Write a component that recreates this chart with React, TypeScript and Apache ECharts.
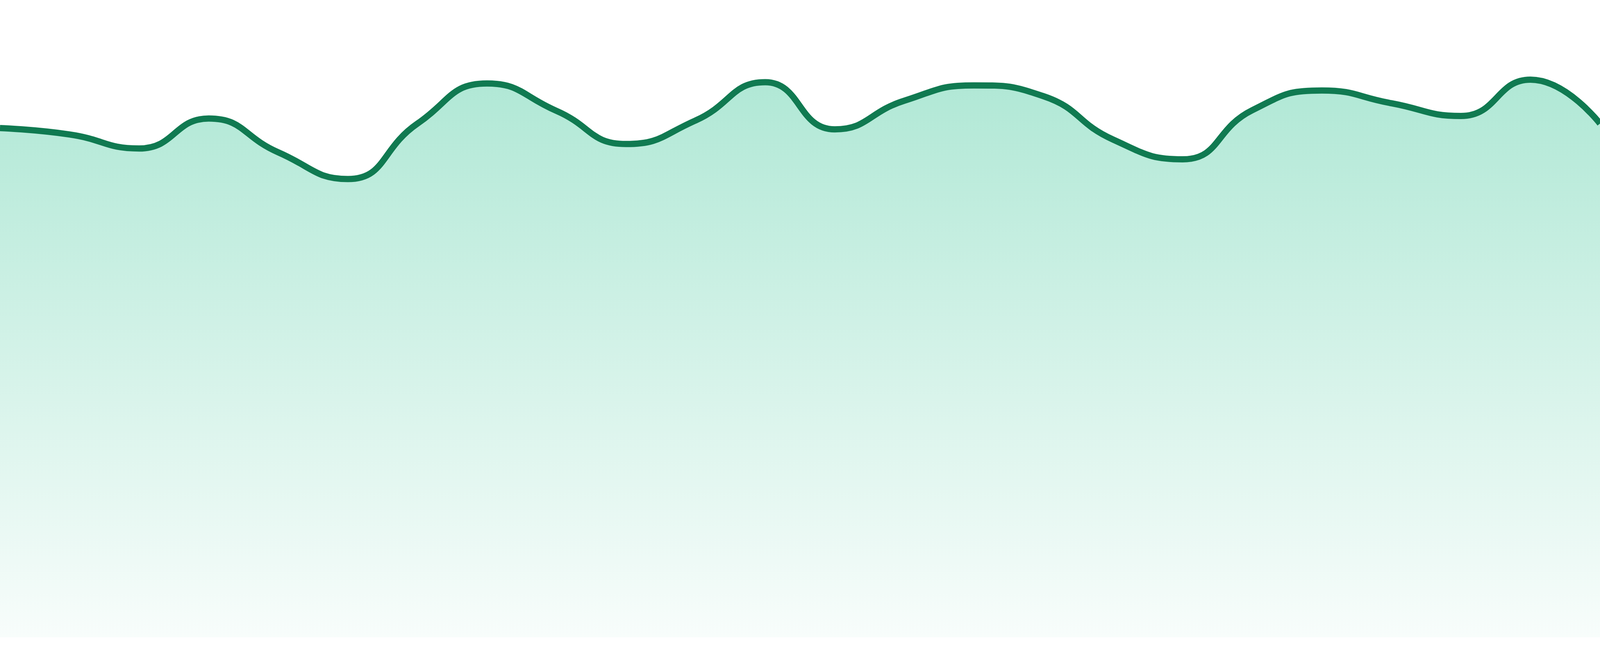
import React, { useEffect, useRef } from "react";
import * as echarts from "echarts";

const categories: string[] = [
  "1", "2", "3", "4", "5", "6", "7", "8", "9", "10", "11", "12",
  "13", "14", "15", "16", "17", "18", "19", "20", "21", "22", "23", "24",
];

const values: number[] = [
  79.9, 78.9, 76.7, 81.4, 76.1, 71.9, 80.6, 86.9, 82.6, 77.4, 81.1, 87.1,
  79.7, 84.2, 86.6, 84.9, 78.1, 75.0, 82.7, 85.8, 83.8, 81.8, 87.5, 80.6,
];

const yMin = 0;
const yMax = 100;

export default function App() {
  const ref = useRef<HTMLDivElement>(null);

  useEffect(() => {
    if (!ref.current) return;
    const chart = echarts.init(ref.current, undefined, { renderer: "svg" });
    chart.setOption({
      animation: false,
      backgroundColor: "#ffffff",
      grid: { left: 0, right: 0, top: 0, bottom: "2.857%", containLabel: false },
      xAxis: {
        type: "category",
        data: categories,
        boundaryGap: false,
        show: false,
      },
      yAxis: {
        type: "value",
        min: yMin,
        max: yMax,
        show: false,
        splitLine: { show: false },
      },
      series: [
        {
          type: "line",
          data: values,
          smooth: true,
          symbol: "none",
          lineStyle: { color: "#107a51", width: 16 },
          itemStyle: { color: "#107a51" },
          areaStyle: {
            opacity: 1,
            color: new echarts.graphic.LinearGradient(0, 0, 0, 1, [
              { offset: 0, color: "rgba(16,185,129,0.33)" },
              { offset: 1, color: "rgba(16,185,129,0.03)" },
            ]),
          },
        },
      ],
    });
    return () => chart.dispose();
  }, []);

  return (
    <div
      ref={ref}
      style={{
        position: "fixed",
        left: 0,
        top: 0,
        width: "100vw",
        height: "100vh",
        background: "#ffffff",
      }}
    />
  );
}
